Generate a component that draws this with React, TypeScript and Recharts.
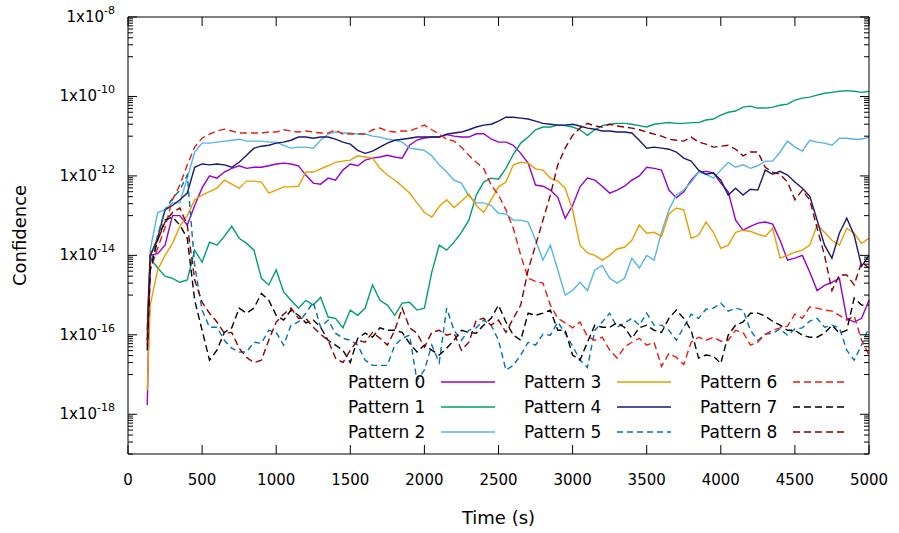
import React from 'react';
import { LineChart, Line, XAxis, YAxis, Legend, Label } from 'recharts';

const FONT = "'DejaVu Sans', Verdana, sans-serif";

// sample times (s)
const times = [
  130, 150, 200, 250, 300, 350, 400, 450, 500, 550,
  600, 650, 700, 750, 800, 850, 900, 950, 1000, 1050,
  1100, 1150, 1200, 1250, 1300, 1350, 1400, 1450, 1500, 1550,
  1600, 1650, 1700, 1750, 1800, 1850, 1900, 1950, 2000, 2050,
  2100, 2150, 2200, 2250, 2300, 2350, 2400, 2450, 2500, 2550,
  2600, 2650, 2700, 2750, 2800, 2850, 2900, 2950, 3000, 3050,
  3100, 3150, 3200, 3250, 3300, 3350, 3400, 3450, 3500, 3550,
  3600, 3650, 3700, 3750, 3800, 3850, 3900, 3950, 4000, 4050,
  4100, 4150, 4200, 4250, 4300, 4350, 4400, 4450, 4500, 4550,
  4600, 4650, 4700, 4750, 4800, 4850, 4900, 4950, 5000,
];

const pattern0 = [
  1.7e-18, 1e-14, 1.1e-14, 1.8e-14, 1e-13, 1e-13, 5.8e-14, 1.8e-13, 5e-13, 1e-12,
  8.8e-13, 1.25e-12, 1.55e-12, 1.8e-12, 1.55e-12, 1.65e-12, 1.65e-12, 1.8e-12, 2e-12, 2.1e-12,
  2e-12, 1.8e-12, 1.05e-12, 6.6e-13, 6.2e-13, 8.8e-13, 7.8e-13, 1.4e-12, 2e-12, 1.8e-12,
  2.5e-12, 2.8e-12, 3e-12, 3.3e-12, 3e-12, 2.8e-12, 5.9e-12, 8e-12, 9e-12, 9.5e-12,
  9.5e-12, 1.1e-11, 1e-11, 9.5e-12, 9.5e-12, 1.15e-11, 1.15e-11, 8.5e-12, 7.1e-12, 7.1e-12,
  5.9e-12, 3.7e-12, 2.1e-12, 5.9e-13, 5.5e-13, 4.4e-13, 2.9e-13, 8.6e-14, 1.8e-13, 5.3e-13,
  8.8e-13, 7.8e-13, 5.5e-13, 3.7e-13, 4.4e-13, 5.5e-13, 7.8e-13, 1e-12, 1.65e-12, 1.55e-12,
  1.4e-12, 4.4e-13, 2.8e-13, 4e-13, 7.8e-13, 1.25e-12, 1.3e-12, 1.2e-12, 6.6e-13, 4e-13,
  7.7e-14, 4.3e-14, 5.4e-14, 6.5e-14, 6.9e-14, 6.1e-14, 2.4e-14, 7.6e-15, 8.5e-15, 1e-14,
  3.8e-15, 1.3e-15, 1.75e-15, 2.1e-15, 2.65e-15, 2.6e-16, 2.1e-16, 2.6e-16, 7.4e-16,
];

const pattern1 = [
  1e-16, 8.5e-15, 4.8e-15, 3e-15, 2.65e-15, 2.1e-15, 2.4e-15, 1.35e-14, 6.7e-15, 2.15e-14,
  1.8e-14, 3e-14, 5.4e-14, 2.7e-14, 2e-14, 1.35e-14, 2.65e-15, 1.8e-15, 4.3e-15, 1.2e-15,
  7.4e-16, 4.7e-16, 7.4e-16, 5.6e-16, 8.8e-16, 2.8e-16, 2.6e-16, 1.5e-16, 4.2e-16, 3.1e-16,
  4.7e-16, 1.8e-15, 7.4e-16, 5.6e-16, 3.1e-16, 6.3e-16, 6.6e-16, 4.2e-16, 4.7e-16, 3.8e-15,
  1.8e-14, 1.35e-14, 2.15e-14, 3.8e-14, 7.7e-14, 3.3e-13, 7e-13, 8.8e-13, 8.3e-13, 1.55e-12,
  3.5e-12, 6.7e-12, 9.5e-12, 1.45e-11, 1.7e-11, 1.7e-11, 1.9e-11, 1.85e-11, 1.7e-11, 1.45e-11,
  1.05e-11, 1.45e-11, 1.85e-11, 2e-11, 2.1e-11, 2.1e-11, 2e-11, 1.85e-11, 1.7e-11, 2e-11,
  2.1e-11, 2.2e-11, 2.1e-11, 2.1e-11, 2.2e-11, 2.2e-11, 2.55e-11, 2.7e-11, 3.4e-11, 4e-11,
  4.3e-11, 5.4e-11, 5.7e-11, 5.1e-11, 5.1e-11, 5.4e-11, 6e-11, 6.4e-11, 8.1e-11, 9.1e-11,
  9.6e-11, 1.08e-10, 1.2e-10, 1.27e-10, 1.35e-10, 1.4e-10, 1.35e-10, 1.27e-10, 1.35e-10,
];

const pattern2 = [
  2.35e-16, 1.35e-14, 1.2e-13, 1.4e-13, 2.1e-13, 2.1e-13, 8.8e-13, 4e-12, 6.7e-12, 6.7e-12,
  7.1e-12, 7.5e-12, 7.9e-12, 8.4e-12, 7.5e-12, 7.5e-12, 7.5e-12, 7.1e-12, 7.1e-12, 5.9e-12,
  5e-12, 5.3e-12, 5.3e-12, 5e-12, 7.9e-12, 1.13e-11, 1.27e-11, 1.2e-11, 1.2e-11, 1.13e-11,
  1.13e-11, 1e-11, 9.5e-12, 8.4e-12, 7.9e-12, 7.1e-12, 5e-12, 4.7e-12, 4.4e-12, 3.2e-12,
  1.9e-12, 1.25e-12, 7.8e-13, 6.6e-13, 3.1e-13, 2.1e-13, 2.1e-13, 1.8e-13, 1.15e-13, 1.1e-13,
  7.7e-14, 7.7e-14, 6.9e-14, 2.4e-14, 7.6e-15, 1.8e-14, 4.3e-15, 1e-15, 1.3e-15, 2.1e-15,
  1.3e-15, 4.3e-15, 5.6e-15, 2.65e-15, 2e-15, 2.65e-15, 8.5e-15, 4.8e-15, 1e-14, 7.6e-15,
  3.8e-14, 1.4e-13, 3.3e-13, 4.4e-13, 7e-13, 1.25e-12, 1.1e-12, 8.8e-13, 1.4e-12, 2.2e-12,
  1.65e-12, 1.9e-12, 1.55e-12, 1.8e-12, 2.35e-12, 2.35e-12, 4e-12, 7.5e-12, 5.3e-12, 4.2e-12,
  7.9e-12, 7.1e-12, 6.7e-12, 5.9e-12, 8.9e-12, 8.9e-12, 8.4e-12, 8.4e-12, 9.5e-12,
];

const pattern3 = [
  4e-18, 5.6e-16, 4.3e-15, 1e-14, 2e-14, 5.4e-14, 1e-13, 2.5e-13, 3.3e-13, 4e-13,
  4.9e-13, 7.8e-13, 6.2e-13, 4.9e-13, 7.4e-13, 7.4e-13, 7e-13, 3.7e-13, 4.4e-13, 5.3e-13,
  5.3e-13, 5.5e-13, 1.25e-12, 1.25e-12, 1.5e-12, 1.8e-12, 2.2e-12, 2.35e-12, 2.5e-12, 3.2e-12,
  3e-12, 2.8e-12, 1.55e-12, 1.05e-12, 7.8e-13, 5.5e-13, 3.7e-13, 2.1e-13, 1.2e-13, 9.2e-14,
  1.7e-13, 2.5e-13, 1.6e-13, 2.3e-13, 3.5e-13, 1.8e-13, 1.2e-13, 2.5e-13, 5.3e-13, 7e-13,
  1.9e-12, 2.2e-12, 2.1e-12, 1.5e-12, 1.4e-12, 8.8e-13, 7.4e-13, 4.9e-13, 1.4e-13, 1.8e-14,
  1.15e-14, 1e-14, 7.6e-15, 1e-14, 1.45e-14, 1.6e-14, 2.4e-14, 5.8e-14, 3.6e-14, 3.8e-14,
  3e-14, 1.1e-13, 1.55e-13, 1.4e-13, 2.7e-14, 3.2e-14, 6.9e-14, 3.8e-14, 1.5e-14, 1.8e-14,
  3.8e-14, 4.3e-14, 4e-14, 3.4e-14, 3e-14, 4.8e-14, 8.5e-15, 1e-14, 1.2e-14, 1.35e-14,
  1.8e-14, 5.8e-14, 3.8e-14, 2.4e-14, 1.8e-14, 4.8e-14, 3.6e-14, 2e-14, 2.7e-14,
];

const pattern4 = [
  1.3e-16, 1e-14, 2.7e-14, 1.4e-13, 1.8e-13, 2.5e-13, 3.7e-13, 1.65e-12, 2e-12, 1.9e-12,
  2e-12, 1.9e-12, 1.65e-12, 2.2e-12, 3.3e-12, 5e-12, 5.6e-12, 5.9e-12, 6.7e-12, 7.1e-12,
  7.9e-12, 9.5e-12, 9.5e-12, 8.9e-12, 9.5e-12, 9.5e-12, 8.4e-12, 7.1e-12, 6.3e-12, 4.4e-12,
  3.7e-12, 4.2e-12, 5.3e-12, 6.7e-12, 7.9e-12, 8.4e-12, 8.9e-12, 9.5e-12, 9.5e-12, 9.5e-12,
  9.5e-12, 1.13e-11, 1.2e-11, 1.27e-11, 1.45e-11, 1.7e-11, 1.9e-11, 2e-11, 2.4e-11, 3e-11,
  3e-11, 2.85e-11, 2.7e-11, 2.4e-11, 2.1e-11, 2e-11, 1.9e-11, 1.9e-11, 2e-11, 1.8e-11,
  1.6e-11, 1.5e-11, 1.35e-11, 1.35e-11, 1.27e-11, 1.27e-11, 1.2e-11, 7.9e-12, 5e-12, 5.3e-12,
  5e-12, 4.7e-12, 4e-12, 2.8e-12, 2.35e-12, 1.4e-12, 1.1e-12, 1.2e-12, 7.8e-13, 3.3e-13,
  4.9e-13, 3.3e-13, 4.6e-13, 4.4e-13, 1.4e-12, 1.1e-12, 1.3e-12, 1.05e-12, 7e-13, 4.9e-13,
  3.1e-13, 7.7e-14, 1.8e-14, 8.5e-15, 3.6e-14, 8.6e-14, 3.2e-14, 5.3e-15, 1e-14,
];

const pattern5 = [
  7.3e-17, 5.6e-15, 3.2e-14, 1.4e-13, 2.7e-13, 4.4e-13, 1.05e-12, 5.6e-15, 4.2e-16, 1.55e-16,
  1.55e-16, 7.3e-17, 4.6e-17, 3.7e-17, 3.7e-17, 6.5e-17, 6.1e-17, 1.3e-16, 1.15e-16, 5.5e-17,
  1.75e-16, 2.1e-16, 3.5e-16, 6.6e-16, 1.55e-16, 2.35e-16, 1.1e-16, 8.2e-17, 7.3e-17, 5.5e-17,
  2.3e-17, 1.7e-17, 1.7e-17, 1.7e-17, 5.5e-17, 8.2e-17, 9.8e-17, 7e-18, 1.3e-17, 5.5e-17,
  2e-17, 4.7e-16, 1.3e-16, 7.3e-17, 1.3e-16, 1.5e-16, 2.35e-16, 1.75e-16, 7.3e-17, 1.3e-17,
  1.7e-17, 3.1e-17, 6.5e-17, 5.5e-17, 1.03e-16, 9.8e-17, 2.1e-16, 1.1e-16, 5.2e-17, 2.3e-17,
  1.5e-17, 1.3e-16, 2.1e-16, 3.5e-16, 1.55e-16, 2e-16, 2.6e-16, 1.75e-16, 3.5e-16, 1.75e-16,
  1.75e-16, 1.3e-16, 7.3e-17, 1.55e-16, 3.3e-16, 2.6e-16, 4.4e-16, 4.7e-16, 6.3e-16, 3.95e-16,
  4.7e-16, 4.2e-16, 1.3e-16, 7.3e-17, 1.03e-16, 1.1e-16, 1.4e-16, 9.8e-17, 1.4e-16, 1.5e-16,
  2.2e-16, 2.6e-16, 1.55e-16, 1.75e-16, 1.5e-16, 4.1e-17, 2.3e-17, 5.5e-17, 1.55e-16,
];

const pattern6 = [
  7.3e-17, 4.3e-15, 1.5e-14, 5.1e-14, 2.5e-13, 5.9e-13, 1.9e-12, 5.3e-12, 8.9e-12, 1.13e-11,
  1.35e-11, 1.5e-11, 1.35e-11, 1.2e-11, 1.2e-11, 1.2e-11, 1.2e-11, 1.27e-11, 1.27e-11, 1.45e-11,
  1.35e-11, 1.27e-11, 1.35e-11, 1.27e-11, 1.2e-11, 1.2e-11, 1.45e-11, 1.13e-11, 1.13e-11, 1.13e-11,
  1.13e-11, 1.45e-11, 1.6e-11, 1.35e-11, 1.27e-11, 1.35e-11, 1.35e-11, 1.6e-11, 1.9e-11, 1.45e-11,
  1.13e-11, 8.4e-12, 7.5e-12, 5.3e-12, 3.3e-12, 2.2e-12, 1.55e-12, 5.9e-13, 3.3e-13, 1.4e-13,
  4.8e-14, 1e-14, 2.65e-15, 2.2e-15, 2e-15, 5.6e-16, 2.6e-16, 2e-16, 1.5e-16, 2.1e-16,
  9.2e-17, 7.3e-17, 8.7e-17, 4.1e-17, 2.6e-17, 4.9e-17, 6.5e-17, 8.2e-17, 5.5e-17, 6.5e-17,
  1.6e-17, 3.4e-17, 2.7e-17, 1.8e-17, 6.5e-17, 8.7e-17, 7.3e-17, 8.7e-17, 6.9e-17, 7.3e-17,
  1.3e-16, 1.15e-16, 5.5e-17, 6.5e-17, 1.03e-16, 1.3e-16, 1.5e-16, 1.65e-16, 3.3e-16, 2.6e-16,
  5e-16, 4.7e-16, 4.2e-16, 3.95e-16, 3.1e-16, 2.35e-16, 3e-16, 7.3e-17, 3.1e-17,
];

const pattern7 = [
  4.1e-17, 4.3e-15, 2.4e-14, 7.7e-14, 9.2e-14, 5.8e-14, 2.7e-14, 7.4e-16, 1.3e-16, 2.3e-17,
  4.1e-17, 1.15e-16, 1.5e-16, 4.7e-16, 3.5e-16, 4.7e-16, 1.1e-15, 7.4e-16, 3.1e-16, 2.35e-16,
  4.2e-16, 3.1e-16, 2e-16, 2.35e-16, 1.55e-16, 7.3e-17, 5.5e-17, 4.1e-17, 2e-17, 8.2e-17,
  1.1e-16, 8.7e-17, 1.5e-16, 1.3e-16, 1.3e-16, 1.15e-16, 6.1e-17, 3.7e-17, 5.5e-17, 4.1e-17,
  3.1e-17, 4.6e-17, 7.3e-17, 1.3e-16, 1.15e-16, 1.1e-16, 1.75e-16, 2.6e-16, 5.6e-16, 2.1e-16,
  9.8e-17, 7.3e-17, 3.5e-16, 3.1e-16, 3.5e-16, 4.2e-16, 1.3e-16, 1.3e-16, 3.1e-17, 2.3e-17,
  6.5e-17, 1.75e-16, 1.55e-16, 1.55e-16, 2e-16, 1.55e-16, 8.2e-17, 1.5e-16, 1.75e-16, 1.3e-16,
  1.15e-16, 2.6e-16, 4.2e-16, 2.6e-16, 1.3e-16, 2.6e-17, 3.1e-17, 2.9e-17, 1.9e-17, 9.8e-17,
  1.75e-16, 2.1e-16, 3.5e-16, 3.5e-16, 2.95e-16, 2.2e-16, 1.75e-16, 1.3e-16, 1.3e-16, 9.8e-17,
  8.7e-17, 8.7e-17, 1.1e-16, 1.75e-16, 1.1e-16, 1.3e-16, 8.4e-16, 5.6e-16, 5.6e-16,
];

const pattern8 = [
  5.5e-17, 1e-14, 2.4e-14, 6.9e-14, 1.2e-13, 1.55e-13, 5.8e-14, 2.4e-15, 6.6e-16, 3.5e-16,
  2.1e-16, 1.1e-16, 1.15e-16, 4.6e-17, 2.7e-17, 2e-17, 2.3e-17, 7.3e-17, 2.1e-16, 3.3e-16,
  4.7e-16, 2.6e-16, 2.6e-16, 1.55e-16, 1.03e-16, 7.3e-17, 2.6e-17, 2e-17, 4.1e-17, 7.3e-17,
  6.5e-17, 1.15e-16, 8.2e-17, 5.5e-17, 1.3e-16, 4.7e-16, 1.5e-16, 1.1e-16, 4.9e-17, 1.15e-16,
  1.3e-16, 9.8e-17, 1.1e-16, 4.1e-17, 6.5e-17, 2.35e-16, 2.6e-16, 1.75e-16, 2.35e-16, 1.15e-16,
  2.6e-16, 5.6e-16, 4.3e-15, 1.8e-14, 7.7e-14, 3.3e-13, 1.9e-12, 5e-12, 1.05e-11, 1.6e-11,
  2.1e-11, 1.8e-11, 1.7e-11, 2e-11, 1.8e-11, 1.7e-11, 1.6e-11, 1.45e-11, 1.27e-11, 1.13e-11,
  1e-11, 8.4e-12, 7.9e-12, 7.5e-12, 9.5e-12, 7.1e-12, 6.3e-12, 5.3e-12, 5.6e-12, 5.9e-12,
  4.7e-12, 3.2e-12, 4e-12, 4e-12, 1.65e-12, 1.25e-12, 1.1e-12, 7e-13, 2.5e-13, 4.4e-13,
  2.5e-13, 4.8e-14, 1e-14, 1.3e-15, 3.2e-15, 3.2e-15, 1.8e-15, 6.7e-15, 4.8e-15,
];

const seriesNames = ['Pattern 0', 'Pattern 1', 'Pattern 2', 'Pattern 3', 'Pattern 4', 'Pattern 5', 'Pattern 6', 'Pattern 7', 'Pattern 8'];
const seriesValues = [pattern0, pattern1, pattern2, pattern3, pattern4, pattern5, pattern6, pattern7, pattern8];
const seriesColors = ['#9400d3', '#009e73', '#56b4e9', '#e69f00', '#191970', '#0072b2', '#e51e10', '#000000', '#8b0000'];
const seriesDashes = ['', '', '', '', '', '6 4', '7 4', '7 4', '7 4'];

const xTicks = [0, 500, 1000, 1500, 2000, 2500, 3000, 3500, 4000, 4500, 5000];
const yMajorTicks = [1e-8, 1e-10, 1e-12, 1e-14, 1e-16, 1e-18];
const yMajorExps = ['-8', '-10', '-12', '-14', '-16', '-18'];
const yMinorSteps = [1, 2, 3, 4, 5, 6, 7, 8, 9];
const yTicks = [...yMajorTicks, ...yMajorTicks.flatMap(m => yMinorSteps.map(k => (k * m) / 10))];

const rows = times.map((t, i) => {
  const row: Record<string, number> = { t };
  seriesValues.forEach((vals, s) => { row['p' + s] = vals[i]; });
  return row;
});

const LeftTick = (props: any) => {
  const { x, y, payload } = props;
  const idx = yMajorTicks.indexOf(payload.value);
  return (
    <g>
      <line x1={x} x2={x + (idx >= 0 ? 9 : 5)} y1={y} y2={y} stroke="#000" />
      {idx >= 0 && (
        <text x={x - 13} y={y + 5} textAnchor="end" fontFamily={FONT} fontSize={15} fill="#000">
          1x10<tspan dy={-8} fontSize={11}>{yMajorExps[idx]}</tspan>
        </text>
      )}
    </g>
  );
};

const RightTick = (props: any) => {
  const { x, y, payload } = props;
  const major = yMajorTicks.includes(payload.value);
  return <line x1={x} x2={x - (major ? 9 : 5)} y1={y} y2={y} stroke="#000" />;
};

const BottomTick = (props: any) => {
  const { x, y, payload } = props;
  return (
    <g>
      <line x1={x} x2={x} y1={y} y2={y - 9} stroke="#000" />
      <text x={x} y={y + 26} textAnchor="middle" dominantBaseline="central" fontFamily={FONT} fontSize={15} fill="#000">
        {payload.value}
      </text>
    </g>
  );
};

const TopTick = (props: any) => {
  const { x, y } = props;
  return <line x1={x} x2={x} y1={y} y2={y + 9} stroke="#000" />;
};

const renderLegend = () => (
  <svg width={520} height={80} style={{ display: 'block' }}>
    {seriesNames.map((name, i) => {
      const ox = Math.floor(i / 3) * 176;
      const cy = 14 + (i % 3) * 25;
      return (
        <g key={name}>
          <text x={ox + 8} y={cy} dominantBaseline="central" fontFamily={FONT} fontSize={17} fill="#000">{name}</text>
          <line x1={ox + 101} x2={ox + 155} y1={cy} y2={cy} stroke={seriesColors[i]} strokeWidth={1.4}
            strokeDasharray={seriesDashes[i] || undefined} />
        </g>
      );
    })}
  </svg>
);

export default function App() {
  return (
    <div style={{ position: 'absolute', left: 0, top: 0, width: 899, height: 533, background: '#fff' }}>
      <LineChart width={899} height={533} data={rows} margin={{ top: 16, right: 29, bottom: 78, left: 127 }}
        style={{ fontFamily: FONT }}>
        <XAxis xAxisId="bottom" dataKey="t" type="number" domain={[0, 5000]} ticks={xTicks} height={1}
          tickSize={0} tickMargin={0} tickLine={false} axisLine={{ stroke: '#000' }} tick={<BottomTick />} interval={0}>
          <Label content={(p: any) => {
            const vb = p.viewBox;
            return (
              <text x={vb.x + vb.width / 2} y={vb.y + 63} textAnchor="middle" dominantBaseline="central"
                fontFamily={FONT} fontSize={18} fill="#000">Time (s)</text>
            );
          }} />
        </XAxis>
        <XAxis xAxisId="top" orientation="top" dataKey="t" type="number" domain={[0, 5000]} ticks={xTicks} height={1}
          tickSize={0} tickMargin={0} tickLine={false} axisLine={{ stroke: '#000' }} tick={<TopTick />} interval={0} />
        <YAxis yAxisId="left" scale="log" domain={[1e-19, 1e-8]} allowDataOverflow ticks={yTicks} width={1}
          tickSize={0} tickMargin={0} tickLine={false} axisLine={{ stroke: '#000' }} tick={<LeftTick />} interval={0}>
          <Label content={(p: any) => {
            const vb = p.viewBox;
            const cx = vb.x - 108;
            const cy = vb.y + vb.height / 2;
            return (
              <text x={cx} y={cy} transform={`rotate(-90 ${cx} ${cy})`} textAnchor="middle" dominantBaseline="central"
                fontFamily={FONT} fontSize={18} fill="#000">Confidence</text>
            );
          }} />
        </YAxis>
        <YAxis yAxisId="right" orientation="right" scale="log" domain={[1e-19, 1e-8]} allowDataOverflow ticks={yTicks}
          width={1} tickSize={0} tickMargin={0} tickLine={false} axisLine={{ stroke: '#000' }} tick={<RightTick />} interval={0} />
        {seriesNames.map((name, i) => (
          <Line key={name} name={name} xAxisId="bottom" yAxisId="left" type="linear" dataKey={'p' + i}
            stroke={seriesColors[i]} strokeWidth={1.4} strokeDasharray={seriesDashes[i] || undefined}
            dot={false} activeDot={false} isAnimationActive={false} />
        ))}
        <Legend layout="vertical" align="center" verticalAlign="middle" content={renderLegend}
          wrapperStyle={{ left: 340, top: 368, width: 520, height: 80 }} />
      </LineChart>
    </div>
  );
}
